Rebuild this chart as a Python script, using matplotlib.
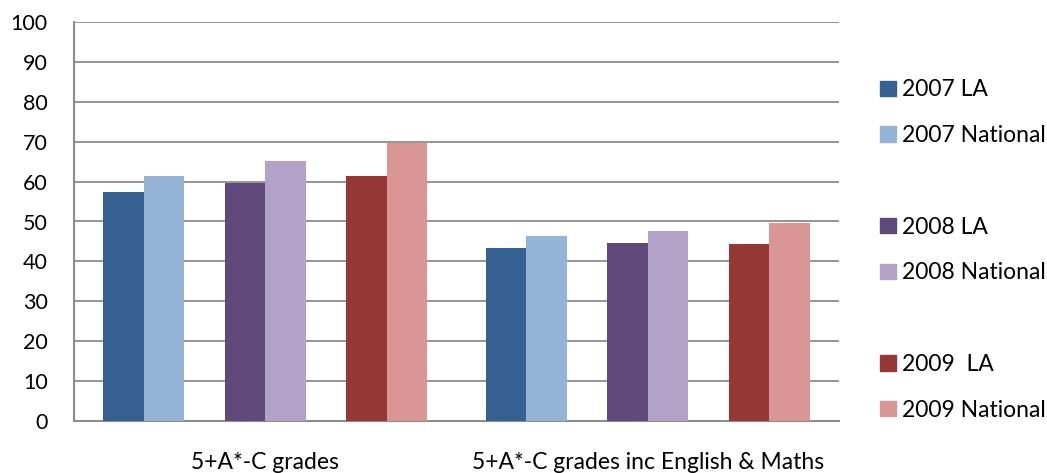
import numpy as np
import matplotlib
matplotlib.use("Agg")
import matplotlib.pyplot as plt
from matplotlib.patches import Patch

categories = ["5+A*-C grades", "5+A*-C grades inc English & Maths"]
series_names = ["2007 LA", "2007 National", "2008 LA", "2008 National", "2009  LA", "2009 National"]
series_colors = ["#376092", "#95b3d7", "#604a7b", "#b3a2c7", "#953735", "#d99694"]
la_2007 = [57.4, 43.3]
nat_2007 = [61.4, 46.3]
la_2008 = [59.7, 44.6]
nat_2008 = [65.2, 47.6]
la_2009 = [61.4, 44.4]
nat_2009 = [69.8, 49.6]
yticks = list(range(0, 101, 10))

values = [la_2007, nat_2007, la_2008, nat_2008, la_2009, nat_2009]
# excel-style slots: blank series between each year pair
slots = [0, 1, 3, 4, 6, 7]
nslots = 8
w = 1.0 / (nslots + 1.44)
fs = 16.5

plt.rcParams['font.family'] = ['Lato', 'DejaVu Sans']
fig = plt.figure(figsize=(10.47, 4.73), dpi=100)
ax = fig.add_axes([74 / 1047, 1 - 420.7 / 473, 765 / 1047, 398.4 / 473])

x = np.arange(len(categories))
for vals, s, col in zip(values, slots, series_colors):
    ax.bar(x + (s - (nslots - 1) / 2) * w, vals, width=w, color=col, zorder=3, linewidth=0)

ax.set_xlim(-0.5, 1.5)
ax.set_ylim(0, 100)
ax.set_yticks(yticks)
ax.set_xticks(x)
ax.set_xticklabels(categories)
ax.grid(axis="y", color="#8c8c8c", linewidth=1.3, zorder=0)
for side in ["top", "right"]:
    ax.spines[side].set_visible(False)
for side in ["left", "bottom"]:
    ax.spines[side].set_color("#8c8c8c")
    ax.spines[side].set_linewidth(1.5)
ax.tick_params(axis="y", length=0, pad=19, labelsize=15.5)
ax.tick_params(axis="x", length=0, pad=22.5, labelsize=fs)

handles = []
labels = []
for i, (name, col) in enumerate(zip(series_names, series_colors)):
    handles.append(Patch(color=col))
    labels.append(name)
    if i in (1, 3):
        handles.append(Patch(visible=False))
        labels.append("")
fig.legend(handles, labels, loc="upper left", bbox_to_anchor=(869 / 1047, 1 - 68 / 473),
           frameon=False, fontsize=fs, handlelength=0.66, handleheight=0.66,
           handletextpad=0.28, labelspacing=1.08, borderpad=0)

fig.savefig("out.png", dpi=100)
